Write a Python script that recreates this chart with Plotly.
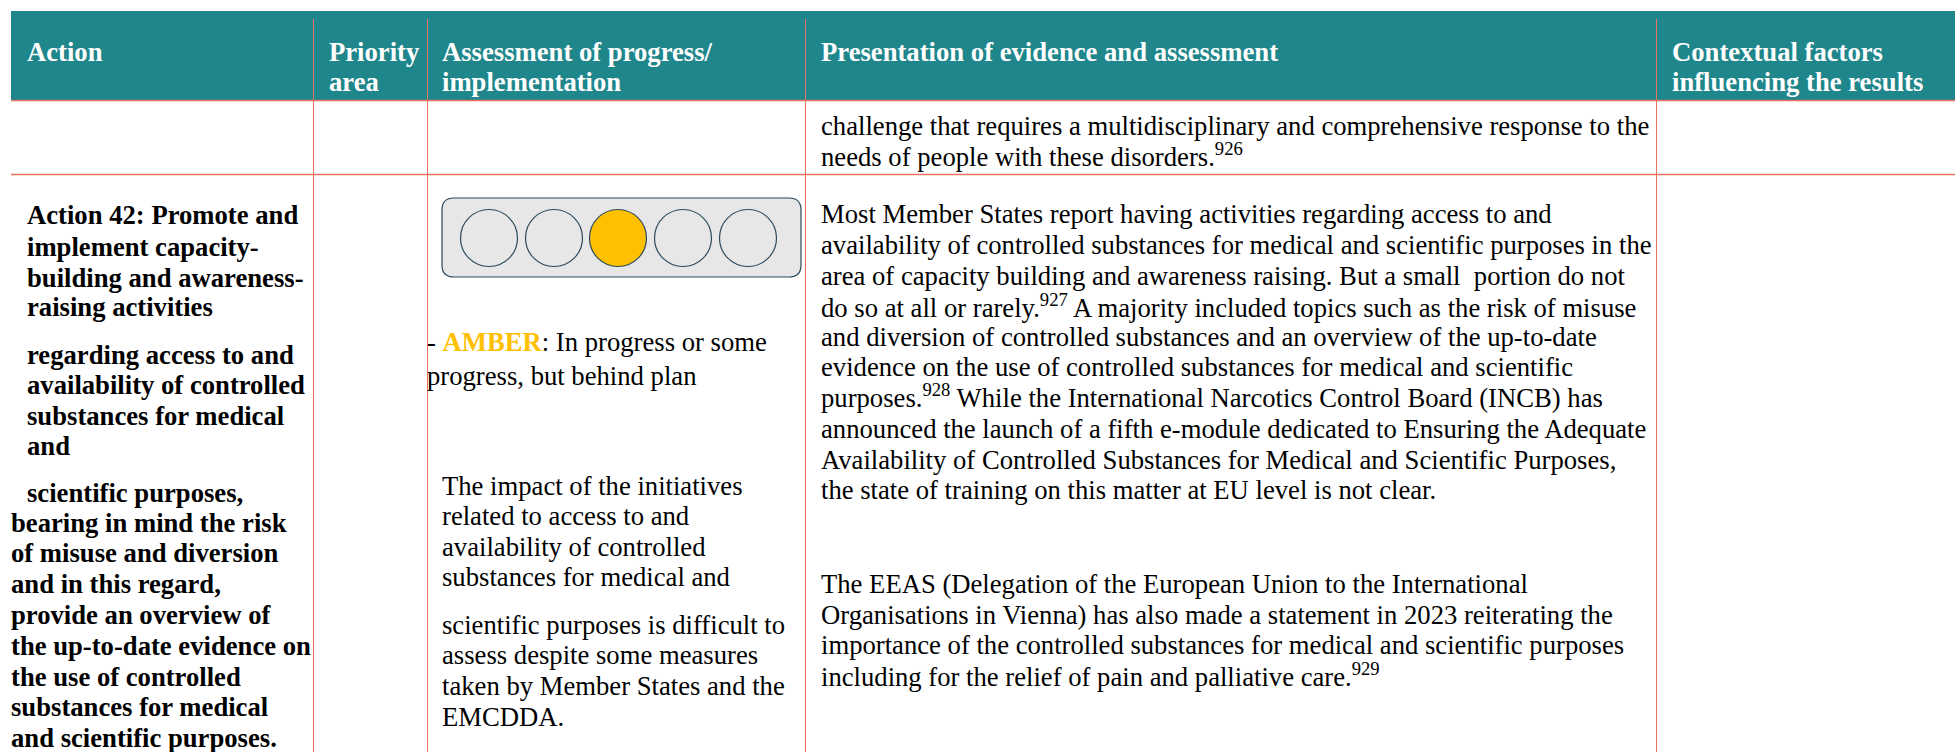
import plotly.graph_objects as go

# ---- content ----
header_labels = [
    "Action", "Priority", "area", "Assessment of progress/", "implementation",
    "Presentation of evidence and assessment",
    "Contextual factors", "influencing the results",
]
action_lines = [
    "Action 42: Promote and", "implement capacity-", "building and awareness-", "raising activities",
    "regarding access to and", "availability of controlled", "substances for medical", "and",
    "scientific purposes,", "bearing in mind the risk", "of misuse and diversion", "and in this regard,",
    "provide an overview of", "the up-to-date evidence on", "the use of controlled",
    "substances for medical", "and scientific purposes.",
]
assessment_lines = [
    "- <span style='color:#FFC000'><b>AMBER</b></span>: In progress or some", "progress, but behind plan",
    "The impact of the initiatives", "related to access to and", "availability of controlled",
    "substances for medical and", "scientific purposes is difficult to", "assess despite some measures",
    "taken by Member States and the", "EMCDDA.",
]
evidence_lines = [
    "challenge that requires a multidisciplinary and comprehensive response to the",
    "needs of people with these disorders.<sup>926</sup>",
    "Most Member States report having activities regarding access to and",
    "availability of controlled substances for medical and scientific purposes in the",
    "area of capacity building and awareness raising. But a small  portion do not",
    "do so at all or rarely.<sup>927</sup> A majority included topics such as the risk of misuse",
    "and diversion of controlled substances and an overview of the up-to-date",
    "evidence on the use of controlled substances for medical and scientific",
    "purposes.<sup>928</sup> While the International Narcotics Control Board (INCB) has",
    "announced the launch of a fifth e-module dedicated to Ensuring the Adequate",
    "Availability of Controlled Substances for Medical and Scientific Purposes,",
    "the state of training on this matter at EU level is not clear.",
    "The EEAS (Delegation of the European Union to the International",
    "Organisations in Vienna) has also made a statement in 2023 reiterating the",
    "importance of the controlled substances for medical and scientific purposes",
    "including for the relief of pain and palliative care.<sup>929</sup>",
]
light_states = ["off", "off", "on", "off", "off"]

# ---- layout ----
W, H = 1955, 752
FONT = "Liberation Serif"
TEAL, RULE, DARK = "#1F868C", "#E8715F", "#2B4A5C"
GREY, AMBER = "#E7E7E7", "#FFC000"
FS = 26.67

header_x = [27, 329, 329, 442.5, 442.5, 821, 1672, 1672]
header_y = [52, 52, 82, 52, 82, 52, 52, 82]
action_x = [27] * 9 + [11.5] * 8
action_y = [215, 247, 278, 307, 355, 385, 416, 446, 493, 523, 553, 584, 615, 646, 677, 707, 738]
assess_x = [427.5, 427.5] + [442.5] * 8
assess_y = [342, 376, 486, 516, 547, 577, 625, 655, 686, 717]
evid_x = [821] * 16
evid_y = [126, 155, 214, 245, 276, 306, 337, 367, 396, 429, 460, 490, 584, 615, 645, 675]
vlines = [313.5, 427.5, 805.5, 1656.5]
hlines = [100.5, 174.5]
light_x = [489, 554, 618, 683, 748]
light_y = 238

fig = go.Figure()

# traffic-light markers
fig.add_trace(go.Scatter(
    x=light_x, y=[light_y] * 5, mode="markers", hoverinfo="skip",
    marker=dict(size=57, symbol="circle",
                color=[AMBER if s == "on" else GREY for s in light_states],
                line=dict(color=DARK, width=1.2)),
))

shapes = [
    dict(type="rect", x0=11, x1=W, y0=11, y1=100, fillcolor=TEAL, line_width=0, layer="below"),
    dict(type="path", layer="below", fillcolor=GREY, line=dict(color=DARK, width=1.2),
         path="M 454 198 L 789 198 Q 801 198 801 210 L 801 265 Q 801 277 789 277 "
              "L 454 277 Q 442 277 442 265 L 442 210 Q 442 198 454 198 Z"),
]
for v in vlines:
    shapes.append(dict(type="line", x0=v, x1=v, y0=19, y1=H, line=dict(color=RULE, width=1), layer="below"))
for h in hlines:
    shapes.append(dict(type="line", x0=11, x1=W, y0=h, y1=h, line=dict(color=RULE, width=1.4), layer="below"))

ann = []
def put(lines, xs, ys, color="#000000", bold=False):
    for t, x, y in zip(lines, xs, ys):
        ann.append(dict(text=f"<b>{t}</b>" if bold else t, x=x, y=y, xref="x", yref="y",
                        xanchor="left", yanchor="middle", showarrow=False, align="left",
                        xshift=-2.5, font=dict(family=FONT, size=FS, color=color)))

put(header_labels, header_x, header_y, "#FFFFFF", True)
put(action_lines, action_x, action_y, bold=True)
put(assessment_lines, assess_x, assess_y)
put(evidence_lines, evid_x, evid_y)

fig.update_layout(
    width=W, height=H, margin=dict(l=0, r=0, t=0, b=0), showlegend=False,
    paper_bgcolor="#FFFFFF", plot_bgcolor="#FFFFFF", shapes=shapes, annotations=ann,
    xaxis=dict(range=[0, W], visible=False, fixedrange=True),
    yaxis=dict(range=[H, 0], visible=False, fixedrange=True),
)
fig.write_html("out.html", config={"displayModeBar": False},
               post_script="document.body.style.margin='0';document.body.style.overflow='hidden';")
